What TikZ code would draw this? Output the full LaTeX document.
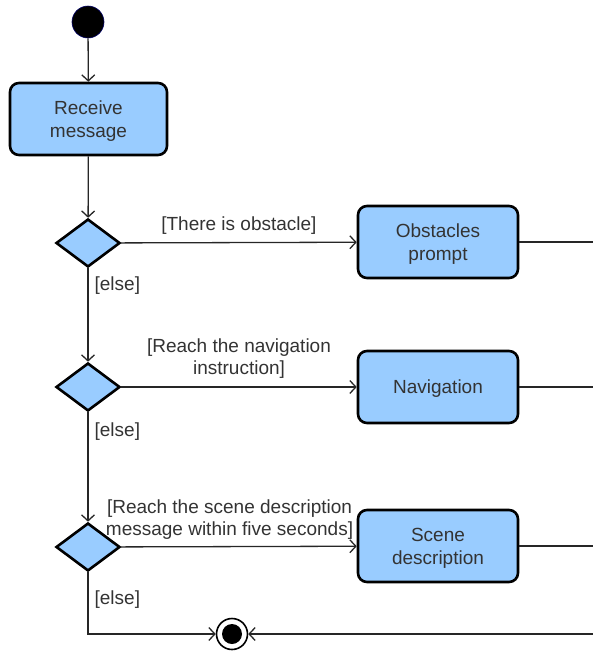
\documentclass[tikz,border=0pt]{standalone}
\usepackage{fontspec}
\setmainfont{Liberation Sans}
\usetikzlibrary{shapes.geometric,arrows.meta,positioning}

\definecolor{actblue}{RGB}{153,204,255}
\tikzset{
  action/.style={draw=black,line width=2.6pt,rounded corners=9pt,fill=actblue,
    minimum width=160pt,minimum height=72pt,align=center,text=black!80,
    text depth=0pt,font=\fontsize{19}{23}\selectfont},
  decision/.style={diamond,draw=black,line width=2.6pt,fill=actblue,
    minimum width=64pt,minimum height=48pt,inner sep=0pt},
  startnode/.style={circle,fill=black,draw=blue!40!black,line width=0.6pt,
    minimum size=32pt,inner sep=0pt},
  stopnode/.style={circle,draw=black,line width=1.6pt,fill=white,
    minimum size=31pt,inner sep=0pt},
  flow/.style={draw=black!85,line width=1.3pt,-{Straight Barb[length=6pt,width=13pt,line width=1.3pt]}},
  guard/.style={text=black!80,font=\fontsize{19}{22}\selectfont,align=center,inner sep=2pt}
}

\begin{document}
\begin{tikzpicture}[x=1pt,y=-1pt]
\useasboundingbox (0,0) rectangle (593,654);

\node[startnode] (init) at (88,22) {};
\node[action,minimum width=157pt] (recv) at (88.5,119) {Receive\\message};
\node[decision] (d1) at (88,243) {};
\node[action] (obst) at (438,242) {Obstacles\\prompt};
\node[decision] (d2) at (88,387) {};
\node[action] (nav) at (438,387) {Navigation};
\node[decision] (d3) at (88,547) {};
\node[action] (scene) at (438,546) {Scene\\description};
\node[stopnode] (final) at (232,634) {};
\fill[black] (final) circle (10pt);

\coordinate (r1) at (593,242);
\coordinate (r2) at (593,387);
\coordinate (r3) at (593,546);
\coordinate (r4) at (593,634);

\draw[flow] (init) -- (recv);
\draw[flow] (recv) -- (d1);
\draw[flow] (d1) -- node[guard,above=5pt] {[There is obstacle]} (obst);
\draw[flow] (d1) -- node[guard,right=4pt,pos=0.18] {[else]} (d2);
\draw[flow] (d2) -- node[guard,above=6pt] {[Reach the navigation\\instruction]} (nav);
\draw[flow] (d2) -- node[guard,right=4pt,pos=0.18] {[else]} (d3);
\draw[flow] (d3) -- node[guard,above=5pt,pos=0.46] {[Reach the scene description\\message within five seconds]} (scene);
\draw[flow] (d3) |- node[guard,right=4pt,pos=0.22] {[else]} (final);

\draw[draw=black!85,line width=1.3pt] (obst) -- (r1);
\draw[draw=black!85,line width=1.3pt] (nav) -- (r2);
\draw[draw=black!85,line width=1.3pt] (scene) -- (r3);
\draw[flow,line width=2.6pt] (r4) -- (final);
\end{tikzpicture}
\end{document}
